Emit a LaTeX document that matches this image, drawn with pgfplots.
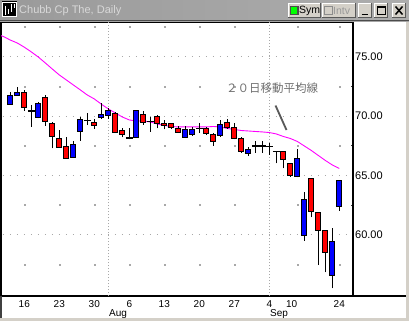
\documentclass[border=0pt]{standalone}
\usepackage{pgfplots}
\pgfplotsset{compat=1.18}
\usepackage{pgfplotstable}
\usepackage{fontspec}
\setmainfont{Liberation Sans}
\newfontfamily\cjk{Noto Sans CJK JP}
\definecolor{upblue}{HTML}{0000FF}
\definecolor{dnred}{HTML}{FF0000}
\definecolor{mag}{HTML}{FF00FF}
\definecolor{gridgray}{HTML}{A8A8A8}
\definecolor{btnface}{HTML}{D4D0C8}
\definecolor{titleL}{HTML}{9A9A9A}
\definecolor{titleR}{HTML}{ADADAD}
\definecolor{titletext}{HTML}{D8D8D8}
\definecolor{annot}{HTML}{707070}
\pgfdeclareplotmark{nomark}{}

\pgfplotstableread{
i ma
-2 76.90
-1 76.70
0 76.40
1 76.15
2 75.80
3 75.40
4 74.97
5 74.47
6 73.96
7 73.46
8 73.04
9 72.62
10 72.20
11 71.77
12 71.44
13 71.00
14 70.60
15 70.26
16 69.92
17 69.67
18 69.58
19 69.58
20 69.50
21 69.33
22 69.20
23 69.12
24 69.08
25 69.08
26 69.08
27 69.08
28 69.08
29 69.12
30 69.08
31 68.95
32 68.87
33 68.78
34 68.74
35 68.70
36 68.66
37 68.61
38 68.49
39 68.28
40 68.11
41 67.86
42 67.48
43 67.10
44 66.68
45 66.26
46 65.88
47 65.58
}\mavg

\begin{document}
\begin{tikzpicture}
\useasboundingbox (0,0) rectangle (409pt,-321pt);
\fill[white] (0,0) rectangle (409pt,-321pt);
\begin{axis}[
  at={(1pt,-22pt)}, anchor=north west,
  width=352pt, height=274pt, scale only axis,
  xmin=-1.33, xmax=48.96, ymin=54.84, ymax=77.92,
  axis line style={black, line width=1.2pt},
  xtick={2,7,12,17,22,27,32,37,41,47},
  xticklabels={16,23,30,6,13,20,27,4,\llap{10},24},
  xticklabel style={font=\fontsize{10}{12}\selectfont, inner sep=0pt, anchor=north, yshift=-4pt},
  ytick={60,65,70,75},
  minor y tick num=1,
  ytick pos=right, yticklabel pos=right,
  xtick pos=bottom,
  major tick length=0pt, minor tick length=2.5pt,
  minor tick style={black!80, line width=0.8pt},
  yticklabel style={font=\fontsize{11}{13}\selectfont, inner sep=0pt, anchor=west, xshift=2pt,
     /pgf/number format/.cd, fixed, fixed zerofill, precision=2, assume math mode=true},
  ymajorgrids,
  major grid style={gridgray, line width=0.9pt, dash pattern=on 1pt off 6pt, dash phase=5.2pt},
]
% month boundaries
\addplot[gridgray, line width=0.9pt, dash pattern=on 1pt off 2pt] coordinates {(14,54.84) (14,77.92)};
\addplot[gridgray, line width=0.9pt, dash pattern=on 1pt off 2pt] coordinates {(37,54.84) (37,77.92)};
% minor grid dots
\addplot[only marks, mark=square*, mark size=0.5pt, gridgray, mark options={draw=none}] coordinates {
(2,57.5)(7,57.5)(12,57.5)(17,57.5)(22,57.5)(27,57.5)(32,57.5)(41,57.5)(47,57.5)
(2,62.5)(7,62.5)(12,62.5)(17,62.5)(22,62.5)(27,62.5)(32,62.5)(41,62.5)(47,62.5)
(2,67.5)(7,67.5)(12,67.5)(17,67.5)(22,67.5)(27,67.5)(32,67.5)(41,67.5)(47,67.5)
(2,72.5)(7,72.5)(12,72.5)(17,72.5)(22,72.5)(27,72.5)(32,72.5)(41,72.5)(47,72.5)
(2,77.5)(7,77.5)(12,77.5)(17,77.5)(22,77.5)(27,77.5)(32,77.5)(41,77.5)(47,77.5)
};
% 20-day moving average
\addplot[mag, line width=0.9pt] table[x=i, y=ma] {\mavg};
% candles (i open high low close)
\addplot[scatter, only marks, mark=nomark,
  visualization depends on={value \thisrow{o} \as \vo},
  visualization depends on={value \thisrow{h} \as \vh},
  visualization depends on={value \thisrow{l} \as \vl},
  visualization depends on={value \thisrow{c} \as \vc},
  scatter/@pre marker code/.code={%
    \pgfmathsetmacro\dH{\vh-\vo}%
    \pgfmathsetmacro\dL{\vl-\vo}%
    \pgfmathsetmacro\dC{\vc-\vo}%
    \draw[black, line width=1.1pt] (axis direction cs:0,\dL) -- (axis direction cs:0,\dH);
    \ifdim \dC pt>0.001pt
      \draw[black, line width=1pt, fill=upblue] (axis direction cs:-0.36,0) rectangle (axis direction cs:0.36,\dC);
    \else\ifdim \dC pt<-0.001pt
      \draw[black, line width=1pt, fill=dnred] (axis direction cs:-0.36,0) rectangle (axis direction cs:0.36,\dC);
    \else
      \draw[black, line width=1.3pt] (axis direction cs:-0.48,0) -- (axis direction cs:0.48,0);
    \fi\fi
  },
  scatter/@post marker code/.code={},
] table[x=i, y=o] {
i o h l c
0 71.01 72.05 70.93 71.77
1 71.71 72.47 71.69 71.97
2 72.00 72.19 70.45 70.74
3 70.43 70.93 69.10 70.43
4 69.89 71.21 69.81 71.07
5 71.58 71.77 69.19 69.52
6 69.39 69.52 67.28 68.26
7 68.13 68.82 67.37 67.37
8 67.42 68.21 66.44 66.44
9 66.49 67.92 66.49 67.56
10 68.68 69.95 67.92 69.73
11 69.64 70.23 69.25 69.64
12 69.44 69.73 68.91 69.22
13 69.89 71.07 69.73 70.17
14 70.03 70.70 69.73 70.43
15 70.23 70.32 68.55 68.63
16 68.74 68.97 68.21 68.46
17 68.15 68.97 68.04 68.15
18 68.21 70.51 68.18 70.43
19 70.09 70.45 69.25 69.47
20 69.52 69.95 68.68 69.52
21 69.95 70.09 68.97 69.39
22 69.39 69.67 68.88 69.22
23 69.39 69.39 68.88 69.02
24 68.93 69.16 68.60 68.63
25 68.18 69.16 68.13 68.88
26 68.46 69.10 68.32 68.88
27 68.97 69.39 68.55 68.97
28 68.97 69.10 68.40 68.49
29 68.46 68.55 67.48 67.84
30 68.34 69.67 68.26 69.30
31 69.47 69.73 68.91 69.05
32 69.02 69.39 68.04 68.13
33 68.13 68.26 66.91 67.00
34 66.86 67.42 66.63 67.14
35 67.48 67.92 66.91 67.48
36 67.48 67.92 66.91 67.48
37 67.42 67.76 66.72 67.42
38 67.00 67.06 66.02 67.00
39 67.00 67.00 65.60 66.30
40 66.02 66.02 64.89 65.03
41 64.89 67.20 64.84 66.44
42 59.95 63.58 59.50 62.99
43 64.76 64.76 61.47 61.94
44 61.89 61.89 57.45 60.37
45 60.37 60.37 56.84 58.52
46 56.55 60.59 55.49 59.47
47 62.42 64.61 62.03 64.53
};
\end{axis}
% annotation
\node[text=annot, font=\cjk\fontsize{11.5}{13}\selectfont, inner sep=0pt] at (272pt,-88.5pt) {２０日移動平均線};
\draw[black!65, line width=1.8pt] (275.5pt,-105.5pt) -- (286.5pt,-130pt);
% month labels
\node[anchor=north west, inner sep=0pt, font=\fontsize{10}{12}\selectfont] at (109pt,-309pt) {Aug};
\node[anchor=north west, inner sep=0pt, font=\fontsize{10}{12}\selectfont] at (270pt,-309pt) {Sep};
% window chrome
\draw[black, line width=1.2pt] (353pt,-296pt) -- (406pt,-296pt);
\draw[black!75, line width=1.2pt] (1pt,-296pt) -- (1pt,-318pt);
\fill[btnface] (406pt,-20pt) rectangle (409pt,-321pt);
\fill[btnface] (0,-318pt) rectangle (409pt,-321pt);
\fill[left color=titleL, right color=titleR] (0,0) rectangle (409pt,-20pt);
\fill[black!70] (0,-20pt) rectangle (409pt,-21pt);
\fill[black!35] (0,-21pt) rectangle (409pt,-22.3pt);
% icon
\fill[black] (1.5pt,-1.5pt) rectangle (17pt,-17.5pt);
\draw[white, line width=0.8pt] (2.5pt,-2.5pt) rectangle (16pt,-16.5pt);
\draw[white, line width=1pt] (5pt,-6pt) -- (5pt,-15pt) (8pt,-9pt) -- (8pt,-14pt) (11pt,-4pt) -- (11pt,-12pt) (14pt,-4pt) -- (14pt,-8pt);
\node[anchor=west, inner sep=0pt, text=titletext, font=\fontsize{11}{13}\selectfont] at (19pt,-11pt) {Chubb Cp The, Daily};
% buttons
\foreach \xa/\xb in {288/321, 322/356, 358/372, 374/388, 392/406} {
  \fill[black!65] (\xa pt,-3.3pt) rectangle (\xb pt,-18.3pt);
  \fill[white] (\xa pt,-3.3pt) rectangle (\xb pt-1pt,-17.3pt);
  \fill[btnface] (\xa pt+1pt,-4.3pt) rectangle (\xb pt-1pt,-17.3pt);
}
\fill[black!70] (290pt,-5.8pt) rectangle (298.5pt,-14.8pt);
\fill[green] (291.2pt,-7pt) rectangle (297.3pt,-13.6pt);
\node[anchor=west, inner sep=0pt, font=\fontsize{10.5}{12}\selectfont] at (299pt,-10.8pt) {Sym};
\draw[black!45, line width=0.9pt] (324.5pt,-6.3pt) rectangle (332pt,-14.3pt);
\node[anchor=west, inner sep=0pt, text=black!40, font=\fontsize{10.5}{12}\selectfont] at (333pt,-10.8pt) {Intv};
\draw[black, line width=1.6pt] (361.5pt,-14.5pt) -- (367.5pt,-14.5pt);
\draw[black, line width=0.9pt] (377.5pt,-6.5pt) rectangle (385pt,-14.5pt);
\draw[black, line width=1.6pt] (377.5pt,-7pt) -- (385pt,-7pt);
\draw[black, line width=1.5pt] (395.5pt,-6.5pt) -- (402.5pt,-14.5pt) (395.5pt,-14.5pt) -- (402.5pt,-6.5pt);
\end{tikzpicture}
\end{document}
